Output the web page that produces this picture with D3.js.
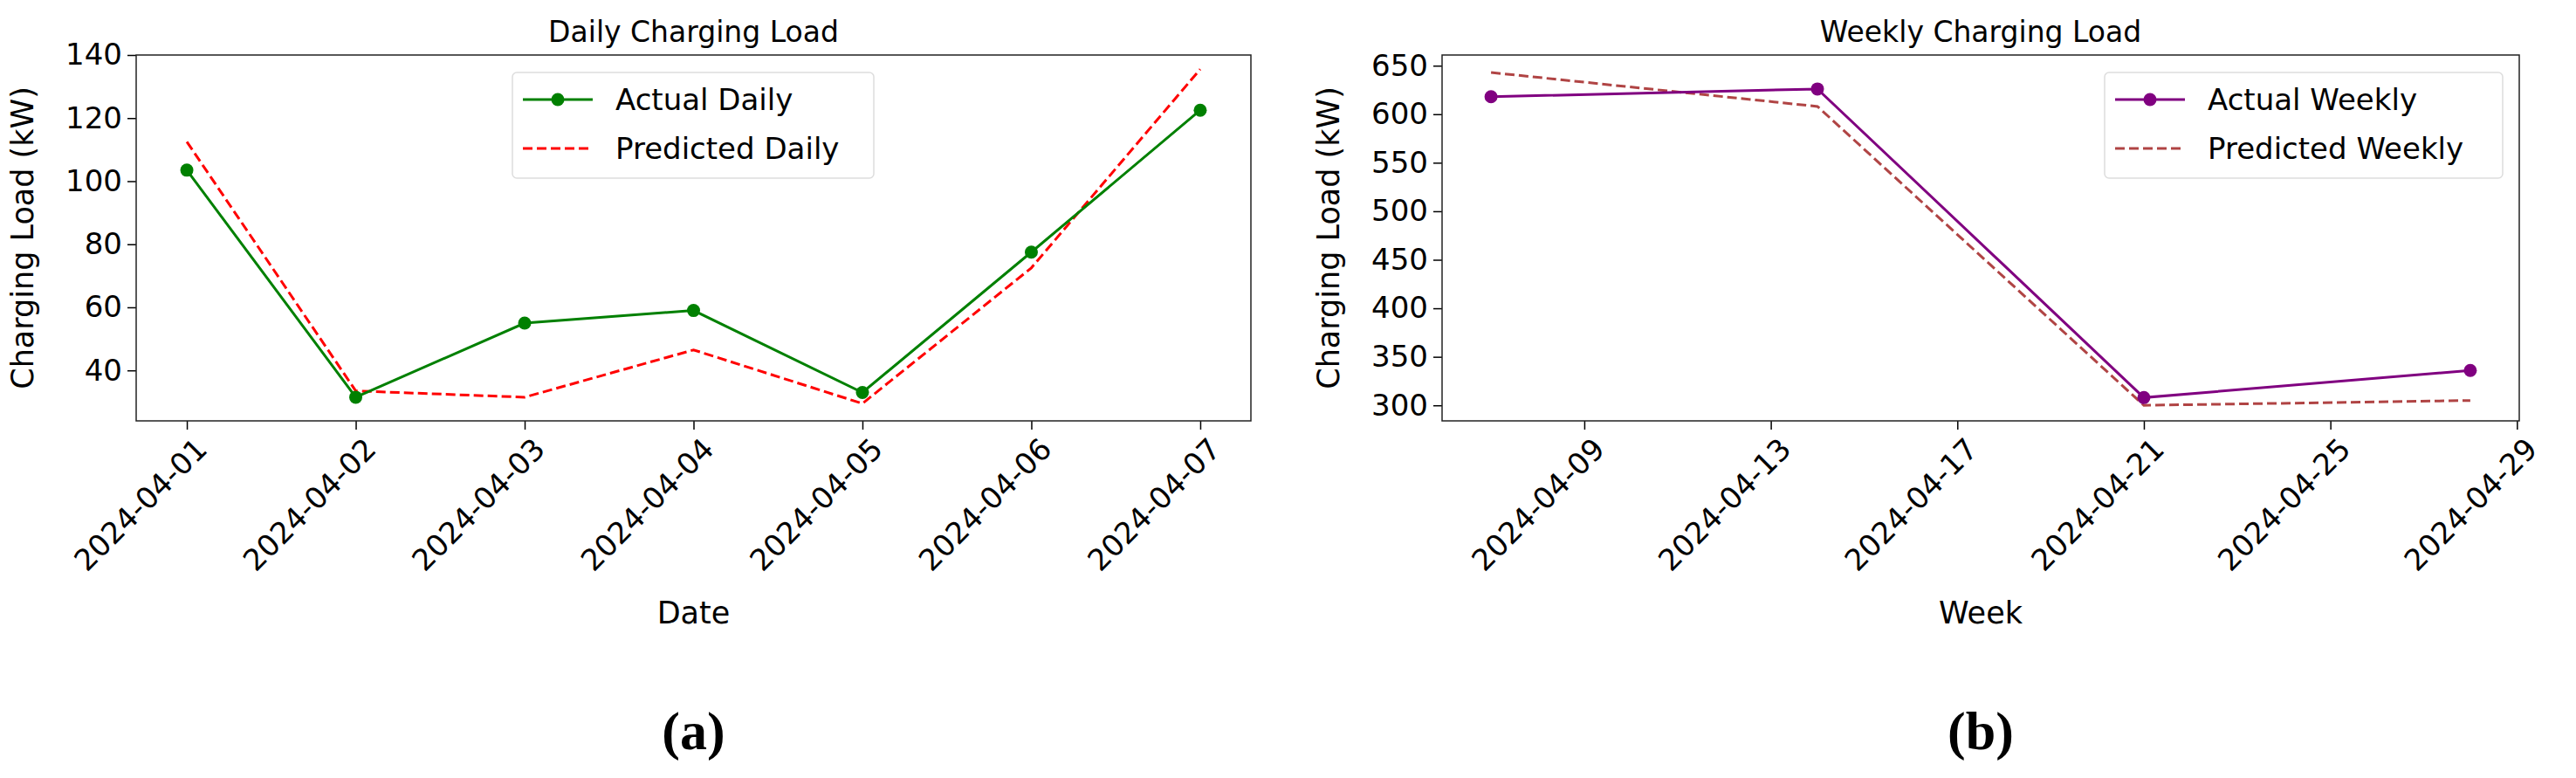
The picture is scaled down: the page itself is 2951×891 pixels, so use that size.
<!DOCTYPE html>
<html><head><meta charset="utf-8">
<script src="https://cdn.jsdelivr.net/npm/d3@7"></script>
<style>body{margin:0;background:#fff}text{font-family:"DejaVu Sans",sans-serif}</style>
</head><body><div id="container"></div>
<script>
var dailyDates = ["2024-04-01","2024-04-02","2024-04-03","2024-04-04","2024-04-05","2024-04-06","2024-04-07"];
var dailyActual = [103.5, 31.5, 55, 59, 33, 77.5, 122.5];
var dailyPred = [112.5, 33.5, 31.5, 46.5, 29.5, 72.5, 135.5];
var dailyTicks = [40, 60, 80, 100, 120, 140];

var weeklyDates = ["2024-04-07","2024-04-14","2024-04-21","2024-04-28"];
var weeklyActual = [618, 626, 308, 336];
var weeklyPred = [643, 608, 300, 305];
var weeklyTicks = [300, 350, 400, 450, 500, 550, 600, 650];
var weeklyXTicks = ["2024-04-09","2024-04-13","2024-04-17","2024-04-21","2024-04-25","2024-04-29"];

var parse = d3.utcParse("%Y-%m-%d");
var fmt = d3.utcFormat("%Y-%m-%d");

var svg = d3.select("#container").append("svg").attr("width", 2951).attr("height", 891);

function drawpanel(o) {
	var g = svg.append("g");
	var dates = o.dates.map(parse);
	var ext = d3.extent(dates);
	var pad = (ext[1] - ext[0]) * 0.05;
	var x = d3.scaleUtc().domain([+ext[0] - pad, +ext[1] + pad]).range([o.x0, o.x1]);
	var y = d3.scaleLinear().domain(o.ydom).range([o.y1, o.y0]);

	var xa = g.append("g").attr("transform", "translate(0," + o.y1 + ")")
		.call(d3.axisBottom(x).tickValues(o.xticks.map(parse)).tickFormat(fmt).tickSize(10).tickPadding(8));
	xa.selectAll("text").attr("font-size", 34).attr("text-anchor", "end")
		.attr("transform", "rotate(-45)").attr("dx", "-0.2em").attr("dy", "0.7em");
	var ya = g.append("g").attr("transform", "translate(" + o.x0 + ",0)")
		.call(d3.axisLeft(y).tickValues(o.yticks).tickSize(10).tickPadding(6));
	ya.selectAll("text").attr("font-size", 34);
	g.selectAll(".domain").remove();
	g.selectAll(".tick line").attr("stroke", "#000").attr("stroke-width", 1.5);
	g.append("rect").attr("x", o.x0).attr("y", o.y0).attr("width", o.x1 - o.x0).attr("height", o.y1 - o.y0)
		.attr("fill", "none").attr("stroke", "#222").attr("stroke-width", 1.5);

	var line = d3.line().x(function(d){return x(d[0])}).y(function(d){return y(d[1])});
	var act = dates.map(function(d, i){return [d, o.actual[i]]});
	var pre = dates.map(function(d, i){return [d, o.pred[i]]});
	g.append("path").attr("d", line(pre)).attr("fill", "none").attr("stroke", o.pc)
		.attr("stroke-width", 3).attr("stroke-dasharray", "11,5");
	g.append("path").attr("d", line(act)).attr("fill", "none").attr("stroke", o.ac).attr("stroke-width", 3);
	g.selectAll("circle.p").data(act).enter().append("circle")
		.attr("cx", function(d){return x(d[0])}).attr("cy", function(d){return y(d[1])})
		.attr("r", 7.5).attr("fill", o.ac);

	var cx = (o.x0 + o.x1) / 2;
	g.append("text").attr("x", cx).attr("y", 48).attr("text-anchor", "middle").attr("font-size", 33).text(o.title);
	g.append("text").attr("x", cx).attr("y", 714).attr("text-anchor", "middle").attr("font-size", 35).text(o.xlabel);
	g.append("text").attr("transform", "translate(" + (o.x0 - 118) + "," + ((o.y0 + o.y1) / 2) + ") rotate(-90)")
		.attr("text-anchor", "middle").attr("font-size", 35).text("Charging Load (kW)");
	g.append("text").attr("x", cx).attr("y", 858).attr("text-anchor", "middle")
		.style("font-family", "'Liberation Serif', 'DejaVu Serif', serif").attr("font-weight", "bold")
		.attr("font-size", 62).text(o.tag);

	var L = g.append("g").attr("transform", "translate(" + o.lx + ",83)");
	L.append("rect").attr("width", o.lw).attr("height", 121).attr("rx", 5).attr("fill", "#fff")
		.attr("stroke", "#ddd").attr("stroke-width", 1.5);
	L.append("line").attr("x1", 12).attr("x2", 92).attr("y1", 31).attr("y2", 31).attr("stroke", o.ac).attr("stroke-width", 3);
	L.append("circle").attr("cx", 52).attr("cy", 31).attr("r", 7.5).attr("fill", o.ac);
	L.append("line").attr("x1", 12).attr("x2", 92).attr("y1", 87).attr("y2", 87).attr("stroke", o.pc)
		.attr("stroke-width", 3).attr("stroke-dasharray", "11,5");
	L.append("text").attr("x", 118).attr("y", 43).attr("font-size", 34).text(o.names[0]);
	L.append("text").attr("x", 118).attr("y", 99).attr("font-size", 34).text(o.names[1]);
}

drawpanel({dates: dailyDates, actual: dailyActual, pred: dailyPred, xticks: dailyDates, yticks: dailyTicks,
	ydom: [24, 140], x0: 156, x1: 1433, y0: 63, y1: 482, ac: "green", pc: "red",
	title: "Daily Charging Load", xlabel: "Date", tag: "(a)", lx: 587, lw: 414,
	names: ["Actual Daily", "Predicted Daily"]});
drawpanel({dates: weeklyDates, actual: weeklyActual, pred: weeklyPred, xticks: weeklyXTicks, yticks: weeklyTicks,
	ydom: [284, 661], x0: 1652, x1: 2886, y0: 63, y1: 482, ac: "purple", pc: "#b04444",
	title: "Weekly Charging Load", xlabel: "Week", tag: "(b)", lx: 2411, lw: 456,
	names: ["Actual Weekly", "Predicted Weekly"]});
</script></body></html>
